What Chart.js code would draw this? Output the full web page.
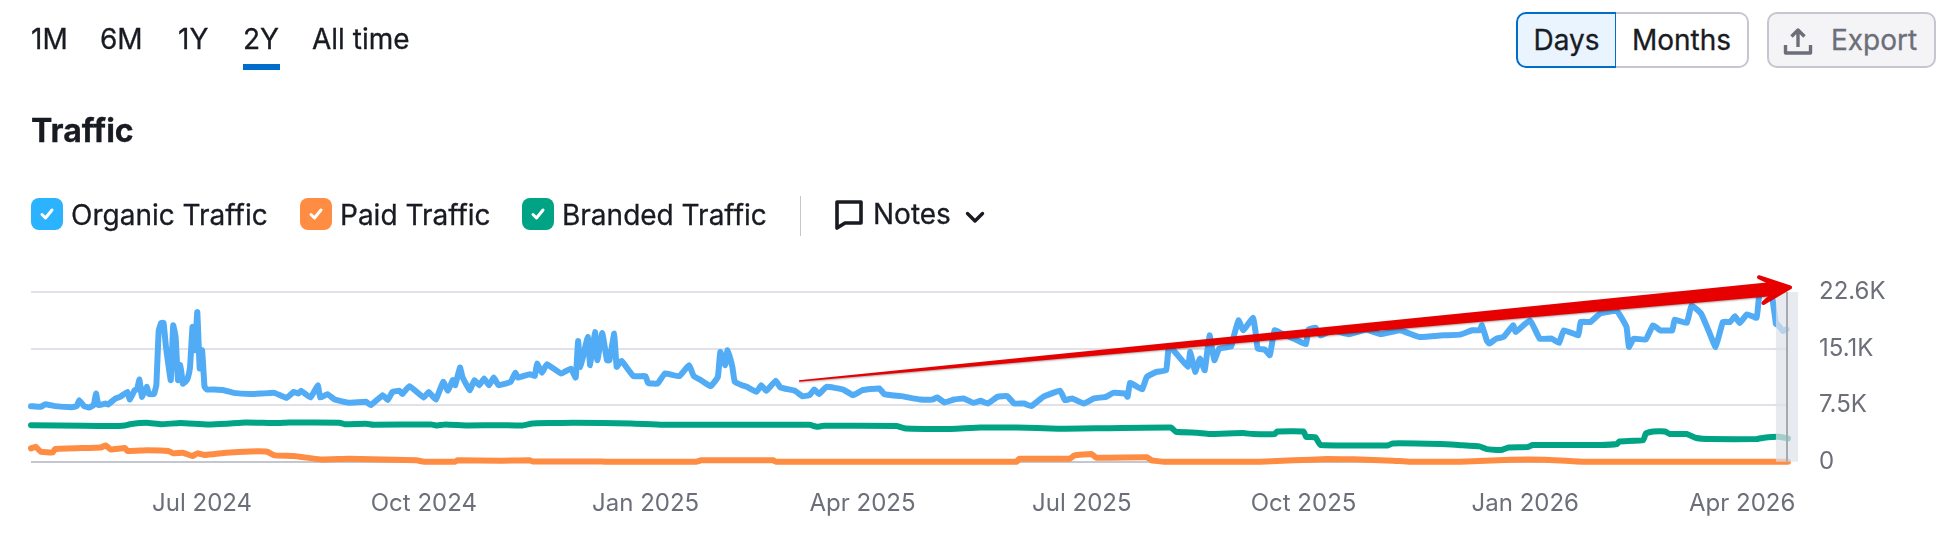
<!DOCTYPE html>
<html>
<head>
<meta charset="utf-8">
<title>Traffic</title>
<script src="https://cdn.jsdelivr.net/npm/chart.js@4"></script>
<style>
    html, body { margin: 0; background: #fff; overflow: hidden; }
    body { width: 1944px; height: 538px; position: relative; font-family: Inter, sans-serif; color: #191b23; }
    #chartTraffic { position: absolute; left: 0; top: 0; }
    .t { position: absolute; white-space: nowrap; font-size: 28px; line-height: 34px; -webkit-text-stroke: 0.3px #191b23; }
    .box { position: absolute; top: 198px; width: 32px; height: 32px; border-radius: 8px; }
    .box svg { position: absolute; left: 7px; top: 7px; }
    .btn { position: absolute; top: 12px; height: 56px; box-sizing: border-box; border: 2px solid #c4c7cf; background: #fff; font-size: 28px; line-height: 52px; text-align: center; -webkit-text-stroke: 0.3px currentColor; }
</style>
</head>
<body>
<canvas id="chartTraffic" width="1944" height="538"></canvas>

<span class="t" style="left:31px;top:22px">1M</span>
<span class="t" style="left:100px;top:22px">6M</span>
<span class="t" style="left:178px;top:22px">1Y</span>
<span class="t" style="left:243px;top:22px">2Y</span>
<span class="t" style="left:312px;top:22px">All time</span>
<div style="position:absolute;left:243px;top:64px;width:37px;height:6px;background:#006dca"></div>

<span class="t" style="left:31px;top:114px;font-size:32px;font-weight:700">Traffic</span>

<div class="box" style="left:31px;background:#2bb3ff"><svg width="18" height="18" viewBox="0 0 18 18"><path d="M4 9.5l3.5 3.5 6.5-8" fill="none" stroke="#fff" stroke-width="3" stroke-linecap="round" stroke-linejoin="round"/></svg></div>
<span class="t" style="left:71px;top:198px">Organic Traffic</span>
<div class="box" style="left:300px;background:#ff8c43"><svg width="18" height="18" viewBox="0 0 18 18"><path d="M4 9.5l3.5 3.5 6.5-8" fill="none" stroke="#fff" stroke-width="3" stroke-linecap="round" stroke-linejoin="round"/></svg></div>
<span class="t" style="left:340px;top:198px">Paid Traffic</span>
<div class="box" style="left:522px;background:#00a383"><svg width="18" height="18" viewBox="0 0 18 18"><path d="M4 9.5l3.5 3.5 6.5-8" fill="none" stroke="#fff" stroke-width="3" stroke-linecap="round" stroke-linejoin="round"/></svg></div>
<span class="t" style="left:562px;top:198px">Branded Traffic</span>
<div style="position:absolute;left:800px;top:196px;width:1px;height:40px;background:#c4c7cf"></div>
<svg style="position:absolute;left:835px;top:200px" width="28" height="30" viewBox="0 0 28 30"><path d="M2 2h24v21H10l-8 5z" fill="none" stroke="#191b23" stroke-width="3.6" stroke-linejoin="round"/></svg>
<span class="t" style="left:873px;top:197px">Notes</span>
<svg style="position:absolute;left:965px;top:211px" width="20" height="13" viewBox="0 0 20 13"><path d="M2.5 2.5L10 10l7.5-7.5" fill="none" stroke="#191b23" stroke-width="3.4" stroke-linecap="round" stroke-linejoin="round"/></svg>

<div class="btn" style="left:1516px;width:101px;border-color:#006dca;background:#e9f4ff;border-radius:10px 0 0 10px">Days</div>
<div class="btn" style="left:1616px;width:133px;border-left:none;border-radius:0 10px 10px 0">Months</div>
<div class="btn" style="left:1767px;width:169px;border-radius:10px;background:#f4f4f6;color:#6c6e79;text-align:left;padding-left:62px">Export</div>
<svg style="position:absolute;left:1783px;top:26px" width="30" height="30" viewBox="0 0 30 30"><path d="M15 21V5M8.5 10.5L15 4l6.500 6.500M2.500 19v8h25v-8" fill="none" stroke="#6c6e79" stroke-width="3.400" stroke-linejoin="round"/></svg>

<script>
// days counted from 21 Apr 2024
const tickDays = [71, 163, 255, 345, 436, 528, 620, 710];
const tickNames = ["Jul 2024", "Oct 2024", "Jan 2025", "Apr 2025", "Jul 2025", "Oct 2025", "Jan 2026", "Apr 2026"];
const yTicks = [0, 7533, 15067, 22600];
const yNames = ["0", "7.5K", "15.1K", "22.6K"];

const organicDays = [0,4,6,10,17,19,20,22,24,26,27,28,31,32,35,37,40,41,43,44,45,46,48,49,51,52,53,54,55,56,58,59,60,61,62,63,64,65,66,67,68,69,70,71,72,73,76,80,84,91,96,101,106,109,111,112,116,119,120,123,126,132,139,141,146,148,150,153,154,157,163,165,168,171,173,175,176,178,179,182,184,186,188,190,192,194,199,201,202,207,209,210,212,214,220,224,226,227,228,231,232,234,235,237,239,240,242,243,245,250,255,256,260,263,269,273,275,278,282,285,286,288,289,291,292,295,297,301,303,305,309,311,317,320,323,325,327,330,337,341,345,352,354,361,369,374,376,379,383,387,391,394,397,401,405,408,412,415,420,427,429,432,437,441,446,449,454,455,456,459,461,463,467,471,472,474,480,481,483,485,487,489,491,493,498,499,501,503,507,508,509,512,514,516,519,524,529,530,533,535,540,547,554,560,568,576,586,593,598,601,602,604,605,608,611,615,616,622,626,631,634,636,642,643,647,651,658,662,663,665,670,673,676,681,682,687,689,693,696,699,702,705,707,709,712,716,717,719,722,724,725,727,729];
const organicValues = [7400,7310,7660,7400,7265,7400,8195,7400,7220,7530,9080,7530,7750,7620,8420,8640,9300,8280,9520,9610,10940,8640,9970,9000,9000,10190,17500,18470,18470,15280,10850,18160,16610,10850,12850,10400,10630,11075,12630,17940,14840,19940,12400,14840,9970,9610,9610,9520,9170,9000,9080,9170,8500,9300,9080,9440,8550,10190,8550,9000,8280,7840,7970,7530,8860,8200,9300,9440,9000,10060,8550,9300,8280,10630,9440,10850,10190,12540,11300,9520,10850,10190,11075,10190,11200,10190,10630,11830,11200,11650,11390,13070,11830,12980,11740,12400,11200,16080,12630,16610,12850,17280,13510,17140,13510,13510,17060,12630,13420,11390,11390,10500,10400,11740,11390,12850,11390,10850,10060,11300,14620,12850,14840,12630,10630,10190,9970,9300,10190,9440,10770,9880,9440,8730,8860,9610,9000,9970,9610,8860,9520,9750,9000,8730,8280,8280,8550,7890,8280,8420,7840,8110,7750,8640,8730,7750,7750,7400,8640,9440,8200,8420,7750,8420,8640,9170,9080,8640,10500,9970,9610,11300,11960,12180,15060,14840,12630,14620,11960,13730,12180,16830,13510,15060,15370,16610,18830,17500,19180,17500,15060,14930,14180,17500,17060,16390,15640,17590,17850,16830,17500,16970,17590,16970,17500,16610,16830,16920,17500,17500,18160,16170,15730,16390,16610,18160,17280,18830,16390,16390,15820,17500,16830,18610,18610,19710,20070,17940,15280,16390,16260,18160,17500,17500,18920,18470,20820,19710,17500,15280,18610,18610,19360,18470,19620,19180,21930,23040,22800,18380,18160,17410,17720];

const paidDays = [0,2,4,9,10,29,31,33,39,40,48,57,59,63,67,69,72,81,91,98,101,109,120,132,160,163,176,177,195,207,208,236,238,276,278,308,309,394,409,410,431,433,440,442,463,465,470,510,524,538,549,565,572,593,614,628,644,729];
const paidValues = [1770,1990,1330,1240,1680,1900,2170,1640,1820,1420,1510,1420,1110,1200,750,1110,890,1200,1370,1330,840,750,310,400,180,0,0,180,130,180,40,40,0,0,180,180,0,0,0,400,400,840,1020,530,580,180,0,0,180,350,310,130,0,0,270,270,0,0];

const brandedDays = [0,22,34,39,41,48,54,62,73,81,89,102,107,128,130,139,142,166,168,172,181,195,204,208,215,225,249,262,323,326,329,359,363,379,394,409,426,473,475,484,489,503,507,516,517,528,529,533,535,563,565,585,593,601,604,610,613,621,623,651,658,659,669,670,673,678,680,687,691,697,716,719,725,729];
const brandedValues = [4870,4780,4740,4830,5000,5180,5000,5140,4960,5050,5230,5140,5230,5180,5000,5050,4920,4960,4830,4960,4830,4870,4830,5090,5140,5180,5090,4920,4920,4650,4780,4740,4430,4340,4560,4560,4390,4560,3990,3850,3680,3810,3680,3680,4030,4030,3320,3230,2220,2170,2440,2350,2200,2040,1680,1550,1900,1950,2220,2220,2350,2700,2880,3770,4030,4030,3680,3680,3150,3010,3010,3190,3320,3100];

const lastDay = 728.6;
const partialFrom = 724;      // last days are still incomplete
const shadeTo = 733.2;
const arrowFrom = [318.7, 10740];
const arrowTo = [730.7, 23240];

function points(days, values) {
    return days.map((d, i) => ({ x: d, y: values[i] }));
}

// shaded incomplete period and the red arrow drawn on top of the lines
const overlay = {
    id: "overlay",
    afterDatasetsDraw(chart) {
        const { ctx, scales: { x, y } } = chart;
        const top = y.getPixelForValue(22600), bottom = y.getPixelForValue(0);
        ctx.save();
        ctx.fillStyle = "rgba(222,226,231,0.72)";
        ctx.fillRect(x.getPixelForValue(partialFrom), top, x.getPixelForValue(shadeTo) - x.getPixelForValue(partialFrom), bottom - top);
        ctx.fillStyle = "#a4a9b2";
        ctx.fillRect(x.getPixelForValue(lastDay) - 1, top, 2, bottom - top);

        const x0 = x.getPixelForValue(arrowFrom[0]), y0 = y.getPixelForValue(arrowFrom[1]);
        const x1 = x.getPixelForValue(arrowTo[0]), y1 = y.getPixelForValue(arrowTo[1]);
        const len = Math.hypot(x1 - x0, y1 - y0);
        ctx.translate(x0, y0);
        ctx.rotate(Math.atan2(y1 - y0, x1 - x0));
        ctx.shadowColor = "rgba(0,0,0,0.35)";
        ctx.shadowBlur = 2;
        ctx.shadowOffsetY = 1;
        ctx.fillStyle = "#e60000";
        ctx.strokeStyle = "#e60000";
        ctx.lineJoin = "round";
        ctx.lineWidth = 4;
        ctx.beginPath();
        ctx.moveTo(0, -0.8);
        ctx.lineTo(len - 22, -7);
        ctx.lineTo(len - 32, -13);
        ctx.lineTo(len - 2, 0);
        ctx.lineTo(len - 30, 13);
        ctx.lineTo(len - 22, 7);
        ctx.lineTo(0, 0.8);
        ctx.closePath();
        ctx.fill();
        ctx.shadowColor = "transparent";
        ctx.beginPath();
        ctx.moveTo(len - 22, -7);
        ctx.lineTo(len - 32, -13);
        ctx.lineTo(len - 2, 0);
        ctx.lineTo(len - 30, 13);
        ctx.lineTo(len - 22, 7);
        ctx.closePath();
        ctx.stroke();
        ctx.restore();
    },
};

new Chart(document.getElementById("chartTraffic"), {
    type: "line",
    data: {
        datasets: [
            { label: "Paid Traffic", data: points(paidDays, paidValues), borderColor: "#ff8c43" },
            { label: "Branded Traffic", data: points(brandedDays, brandedValues), borderColor: "#00a383" },
            {
                label: "Organic Traffic",
                data: points(organicDays, organicValues),
                borderColor: "#52acf5",
                segment: { borderDash: (c) => (c.p0.parsed.x >= partialFrom ? [2, 2] : undefined) },
            },
        ],
    },
    options: {
        responsive: false,
        animation: false,
        devicePixelRatio: 1,
        layout: { padding: { left: 31, top: 292 } },
        elements: {
            point: { radius: 0 },
            line: { borderWidth: 6, tension: 0.1, borderJoinStyle: "round", borderCapStyle: "round" },
        },
        datasets: { line: { clip: false } },
        plugins: { legend: { display: false }, tooltip: { enabled: false } },
        scales: {
            x: {
                type: "linear",
                min: 0,
                max: lastDay,
                afterFit: (s) => { s.height = 76.3; },
                afterBuildTicks: (s) => { s.ticks = tickDays.map((v) => ({ value: v })); },
                grid: { display: false },
                border: { display: false },
                ticks: {
                    autoSkip: false,
                    maxRotation: 0,
                    padding: 20,
                    color: "#6c6e79",
                    font: { family: "Inter", size: 24 },
                    callback: (v) => tickNames[tickDays.indexOf(v)],
                },
            },
            y: {
                position: "right",
                min: 0,
                max: 22600,
                afterFit: (s) => { s.width = 157; },
                afterBuildTicks: (s) => { s.ticks = yTicks.map((v) => ({ value: v })); },
                grid: {
                    lineWidth: 2,
                    drawTicks: false,
                    color: (c) => (c.tick.value === 0 ? "#c4c7cf" : "#e0e2e7"),
                },
                border: { display: false },
                ticks: {
                    padding: 32,
                    color: "#6c6e79",
                    font: { family: "Inter", size: 24 },
                    callback: (v) => yNames[yTicks.indexOf(v)],
                },
            },
        },
    },
    plugins: [overlay],
});
</script>
</body>
</html>
